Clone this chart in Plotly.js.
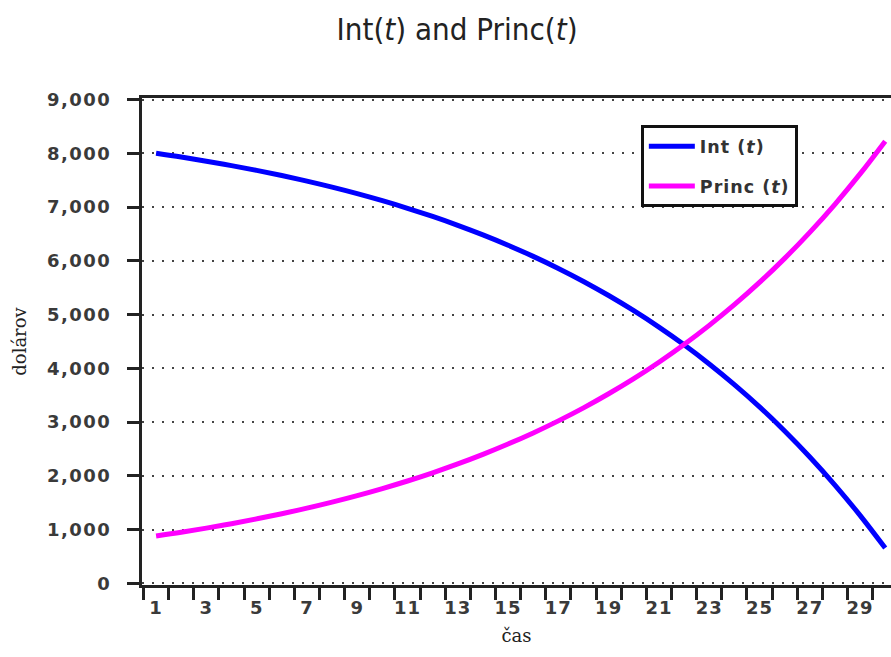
<!DOCTYPE html>
<html>
<head>
<meta charset="utf-8">
<script src="https://cdn.plot.ly/plotly-3.0.1.min.js"></script>
<style>
html,body{margin:0;padding:0;background:#fff;}
#chart{width:891px;height:657px;}
.ytick text { letter-spacing: 1.5px; }
.xtick text { letter-spacing: 1px; }
.legendtext { letter-spacing: 1px; }
</style>
</head>
<body>
<div id="chart"></div>
<script>
// Year (t)
const years = [1,2,3,4,5,6,7,8,9,10,11,12,13,14,15,16,17,18,19,20,21,22,23,24,25,26,27,28,29,30];
// Interest portion Int(t), dollars
const interest = [8000,7930,7853,7771,7682,7586,7482,7370,7249,7118,6977,6825,6660,6482,6290,6083,5859,5617,5355,5073,4768,4439,4083,3699,3285,2837,2353,1831,1267,658];
// Principal portion Princ(t), dollars
const principal = [883,953,1030,1112,1201,1297,1401,1513,1634,1765,1906,2058,2223,2401,2593,2800,3024,3266,3528,3810,4115,4444,4800,5184,5598,6046,6530,7052,7616,8225];
// Axis tick labels
const xTickVals = [1,3,5,7,9,11,13,15,17,19,21,23,25,27,29];
const xTickText = ['1','3','5','7','9','11','13','15','17','19','21','23','25','27','29'];
const yTickVals = [0,1000,2000,3000,4000,5000,6000,7000,8000,9000];
const yTickText = ['0','1,000','2,000','3,000','4,000','5,000','6,000','7,000','8,000','9,000'];

const tickFont = {family:'DejaVu Sans, Verdana, sans-serif', size:18, color:'#3a3a3a', weight:'bold'};
const serifFont = {family:'DejaVu Serif, Liberation Serif, serif', size:18, color:'#222'};

const traces = [
  {x: years, y: interest, name: 'Int (<i>t</i>)', type:'scatter', mode:'lines',
   line:{color:'#0000ff', width:5, shape:'spline'}, legendgroup:'a'},
  {x: years, y: principal, name: 'Princ (<i>t</i>)', type:'scatter', mode:'lines',
   line:{color:'#ff00ff', width:5, shape:'spline'}, legendgroup:'b'}
];

const layout = {
  width: 891, height: 657,
  paper_bgcolor:'#fff', plot_bgcolor:'#fff',
  margin:{l:142, r:0, t:97.5, b:72},
  title:{text:'Int(<i>t</i>) and Princ(<i>t</i>)', x:0.513, xref:'container', xanchor:'center',
         y:0.955, yref:'container', yanchor:'middle',
         font:{family:'Liberation Sans Narrow, DejaVu Sans Condensed, Roboto Condensed, Roboto, sans-serif', size:31, color:'#222'}},
  showlegend:true,
  legend:{x:0.666, y:0.944, xanchor:'left', yanchor:'top', bgcolor:'#fff',
          bordercolor:'#111', borderwidth:3, traceorder:'grouped', tracegroupgap:14,
          itemwidth:46,
          font:{family:'DejaVu Sans, Verdana, sans-serif', size:17.5, color:'#333', weight:'bold'}},
  xaxis:{range:[0.44, 30.23], showgrid:false, zeroline:false,
         showline:true, linecolor:'#222', linewidth:3, mirror:true,
         tickmode:'array', tickvals:xTickVals, ticktext:xTickText, ticks:'', tickfont:tickFont,
         ticklabelstandoff:4,
         minor:{tickmode:'linear', tick0:0.5, dtick:1, ticks:'outside', ticklen:12, tickwidth:3, tickcolor:'#222', showgrid:false},
         title:{text:'čas', font:serifFont, standoff:13}},
  yaxis:{range:[-28, 9028], zeroline:false,
         showline:true, linecolor:'#222', linewidth:3,
         tickmode:'array', tickvals:yTickVals, ticktext:yTickText,
         ticks:'outside', ticklen:12, tickwidth:3, tickcolor:'#222', tickfont:tickFont,
         ticklabelstandoff:12,
         showgrid:true, gridcolor:'#444', gridwidth:2, griddash:'2px,8px',
         title:{text:'dolárov', font:serifFont, standoff:16}}
};

Plotly.newPlot('chart', traces, layout, {displayModeBar:false, staticPlot:true});
</script>
</body>
</html>
